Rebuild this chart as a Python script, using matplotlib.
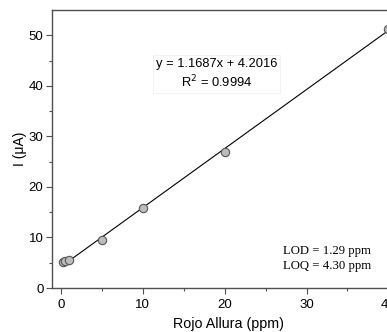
import matplotlib.pyplot as plt
import numpy as np

plt.rcParams["font.family"] = ["Liberation Sans", "DejaVu Sans"]

conc = [0.25, 0.5, 1, 5, 10, 20, 40]
current = [5.2, 5.3, 5.6, 9.4, 15.9, 26.9, 51.2]
slope = 1.1687
intercept = 4.2016
fit_x = [0.5, 40]

fig = plt.figure(figsize=(3.87, 3.32), dpi=100)
ax = fig.add_axes([0.134, 0.1325, 0.912, 0.8375])

fx = np.array(fit_x)
ax.plot(fx, slope * fx + intercept, color="black", lw=0.8, zorder=2)
ax.plot(conc, current, "o", ms=6, mfc="#bcbcbc", mec="#555555", mew=0.8, zorder=3)

ax.set_xlim(-1.1, 42)
ax.set_ylim(0, 55)
ax.set_xticks([0, 10, 20, 30, 40])
ax.set_xticks([5, 15, 25, 35], minor=True)
ax.set_yticks([0, 10, 20, 30, 40, 50])
ax.set_yticks([5, 15, 25, 35, 45], minor=True)

for s in ax.spines.values():
    s.set_color("#505050")
    s.set_linewidth(1.0)
ax.tick_params(which="major", direction="out", length=4, width=0.8, color="#505050", labelsize=9.5, pad=2)
ax.tick_params(axis="x", which="major", pad=4)
ax.tick_params(which="minor", direction="out", length=2, width=0.8, color="#505050")

ax.set_xlabel("Rojo Allura (ppm)", fontsize=10.3, labelpad=4)
ax.set_ylabel("I (\u03bcA)", fontsize=10, labelpad=1)

ax.text(19.0, 42.3, "y = 1.1687x + 4.2016\nR$^2$ = 0.9994", ha="center", va="center",
        fontsize=9.3, linespacing=1.25,
        bbox=dict(boxstyle="square,pad=0.25", fc="white", ec="#f0f0f0", lw=0.6))
ax.text(27.1, 5.8, "LOD = 1.29 ppm\nLOQ = 4.30 ppm", ha="left", va="center",
        fontsize=9.2, family="Liberation Serif", linespacing=1.3)

fig.savefig("out.png", dpi=100)
